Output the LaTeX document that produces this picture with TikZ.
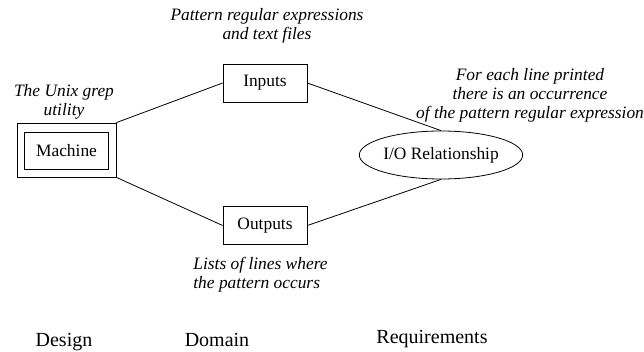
\documentclass[tikz,border=0pt]{standalone}
\usepackage{fontspec}
\setmainfont{Liberation Serif}
\usetikzlibrary{shapes.geometric}
\begin{document}
\begin{tikzpicture}[x=1pt, y=-1pt, line width=0.8pt,
	every node/.style={font=\fontsize{17.4}{19}\selectfont},
	box/.style={draw, minimum width=84pt, minimum height=38pt, inner sep=0pt},
	note/.style={font=\fontsize{17.4}{19}\selectfont\itshape, align=center, inner sep=0pt, anchor=north},
	level/.style={anchor=base, inner sep=0pt, font=\fontsize{20}{22}\selectfont}]
	\useasboundingbox (0,0) rectangle (644,352);
	% machine, domain and requirement shapes
	\node[box, minimum width=99pt, minimum height=54pt] (outer) at (66.5,150) {};
	\node[box, minimum height=37pt] (machine) at (66.5,150.5) {Machine};
	\node[box] (inputs) at (265,83) {Inputs};
	\node[box, minimum height=38pt] (outputs) at (265,225.5) {Outputs};
	\node[draw, ellipse, minimum width=158pt, minimum height=48pt, inner sep=0pt] (io) at (441,155) {I/O Relationship};
	\draw (outer.north east) -- (inputs.west);
	\draw (outer.south east) -- (outputs.west);
	\draw (inputs.east) -- (io.north);
	\draw (outputs.east) -- (io.south);
	% notes
	\node[note] (grep) at (64,84) {The Unix grep\\utility};
	\node[note] (pattern) at (267,8) {Pattern regular expressions\\and text files};
	\node[note] (each) at (530,68) {For each line printed\\there is an occurrence\\of the pattern regular expression};
	\node[note, align=left, anchor=north west] (lists) at (193,257) {Lists of lines where\\the pattern occurs};
	% levels
	\node[level] (design) at (64,346) {Design};
	\node[level] (domain) at (217,346) {Domain};
	\node[level] (req) at (432,343) {Requirements};
\end{tikzpicture}
\end{document}
